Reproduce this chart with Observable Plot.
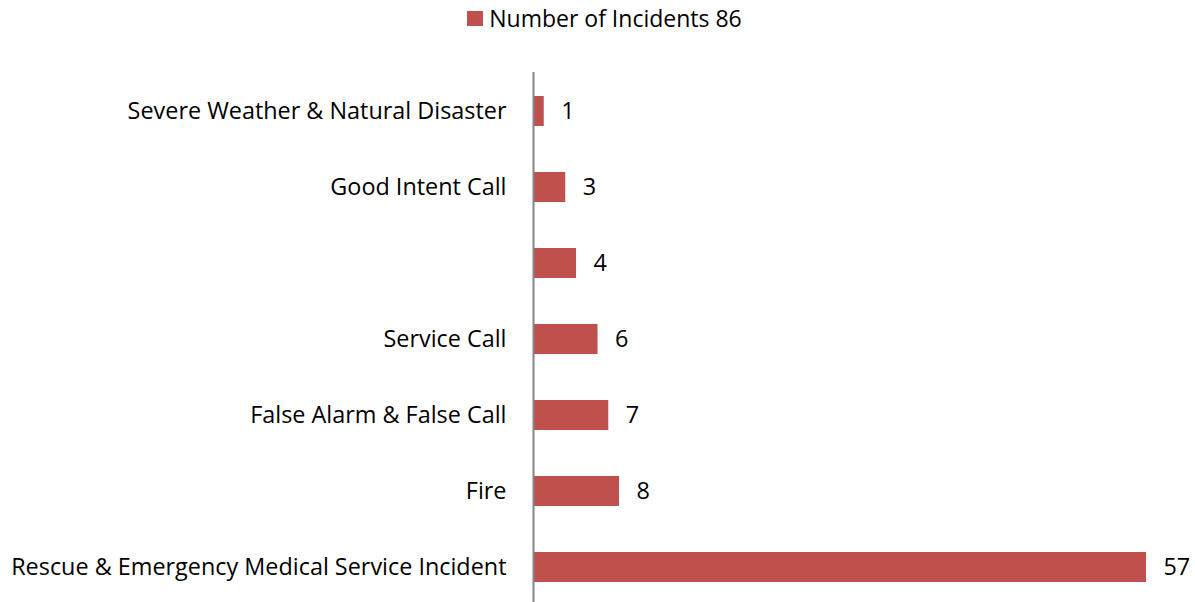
<!DOCTYPE html>
<html>
<head>
<meta charset="utf-8">
<script src="https://cdn.jsdelivr.net/npm/d3@7"></script>
<script src="https://cdn.jsdelivr.net/npm/@observablehq/plot@0.6"></script>
<style>
  html, body { margin: 0; padding: 0; background: #fff; }
  body { width: 1195px; height: 602px; overflow: hidden; font-family: "Open Sans", sans-serif; }
  #legend { height: 40px; display: flex; align-items: center; justify-content: center; font-size: 23px; color: #000; padding-left: 14px; box-sizing: border-box; }
  #legend .sw { width: 16px; height: 15px; background: #C0504D; margin-right: 6px; margin-top: -4px; }
  #legend span { position: relative; top: -2px; }
</style>
</head>
<body>
<div id="legend"><div class="sw"></div><span id="legtext"></span></div>
<div id="chart"></div>
<script>
const categories = [
  "Severe Weather & Natural Disaster",
  "Good Intent Call",
  "",
  "Service Call",
  "False Alarm & False Call",
  "Fire",
  "Rescue & Emergency Medical Service Incident"
];
const values = [1, 3, 4, 6, 7, 8, 57];
const seriesName = "Number of Incidents 86";
const barColor = "#C0504D";

document.getElementById("legtext").textContent = seriesName;

const data = categories.map((c, i) => ({category: c, value: values[i]}));

const chart = Plot.plot({
  width: 1195,
  height: 562,
  marginLeft: 533,
  marginRight: 49,
  marginTop: 32,
  marginBottom: 0,
  style: {fontFamily: "'Open Sans', sans-serif", fontSize: "23.4px", color: "#000", background: "#fff"},
  x: {domain: [0, 57], axis: null},
  y: {domain: categories, range: [31.75, 567.25], paddingInner: 0.6, paddingOuter: 0.3, align: 0.5, label: null, tickSize: 0, tickPadding: 27},
  marks: [
    Plot.barX(data, {x: "value", y: "category", fill: barColor}),
    Plot.text(data, {x: "value", y: "category", text: d => String(d.value), textAnchor: "start", dx: 17, fill: "#000", fontSize: 23.4}),
    Plot.ruleX([0], {stroke: "#868686", strokeWidth: 2})
  ]
});
document.getElementById("chart").appendChild(chart);
</script>
</body>
</html>
